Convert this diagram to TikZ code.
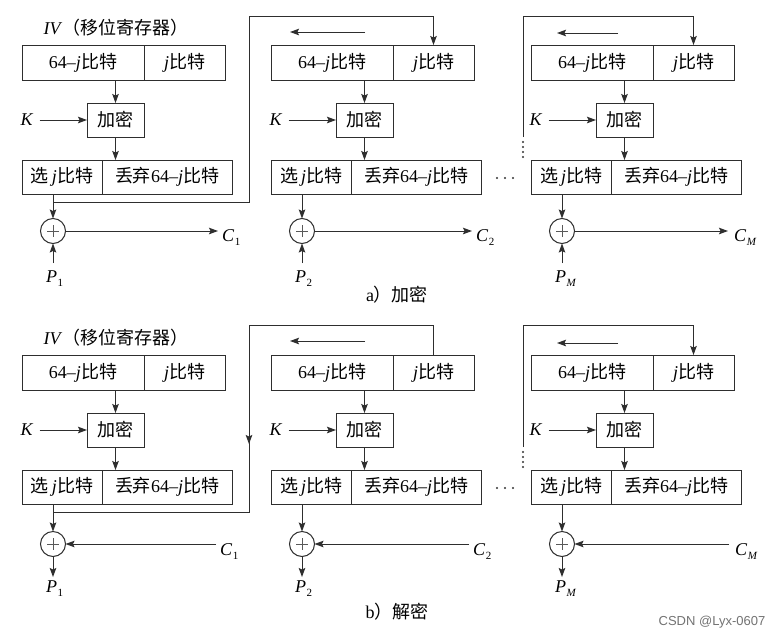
\documentclass[tikz,border=0pt]{standalone}
\usepackage{fontspec}
\setmainfont{Liberation Serif}
\newfontfamily\cjk{Noto Sans CJK SC}
\newfontfamily\wmfont{Liberation Sans}
\usetikzlibrary{arrows.meta,calc}

\newcommand\zh[1]{{\cjk #1}}
\newcommand\jj{\textit{j}}
\newcommand\sbl[2]{\textit{#1}\kern0.5pt\raisebox{-4pt}{\fontsize{11}{11}\selectfont #2}}

\tikzset{
 ln/.style={line width=1pt, draw=black!82},
 arr/.style={ln, -{Stealth[length=9pt,width=6.5pt,inset=1.5pt]}},
 box/.style={draw=black!82, line width=1pt, minimum height=35pt, inner sep=0pt, outer sep=0pt, font=\fontsize{18}{18}\selectfont},
 xo/.style={draw=black!82, line width=1pt, circle, minimum size=25pt, inner sep=0pt, outer sep=0pt},
 plusl/.style={line width=0.7pt, draw=black!65},
 lbl/.style={font=\fontsize{18}{18}\selectfont, inner sep=1pt},
 dotf/.style={fill=black!80},
}

% #1 prefix, #2 left x, #3 box y offset, #4 circle y offset
\newcommand\mkcol[4]{%
 \node[box, minimum width=122pt, anchor=north west] (#1rl) at (#2,#3+45) {64–\jj\zh{比特}};
 \node[box, minimum width=81pt, anchor=north west] (#1rr) at (#1rl.north east) {\jj\zh{比特}};
 \node[box, minimum width=57pt, minimum height=34pt, anchor=north east] (#1enc) at (#2+122,#3+103) {\zh{加密}};
 \node[box, minimum width=80pt, minimum height=34pt, anchor=north west] (#1ll) at (#2,#3+160) {\zh{选}\,\jj\zh{比特}};
 \node[box, minimum width=130pt, minimum height=34pt, anchor=north west] (#1lr) at (#1ll.north east) {\zh{丢弃}64–\jj\zh{比特}};
 \node[lbl, inner xsep=6pt] (#1K) at (#2+5,#3+120) {\textit{K}};
 \node[xo] (#1x) at (#2+31,#4+231) {};
 \draw[plusl] ($(#1x)+(-6,0)$) -- ($(#1x)+(6,0)$);
 \draw[plusl] ($(#1x)+(0,-6)$) -- ($(#1x)+(0,6)$);
 \draw[arr] (#1enc.north |- #1rl.south) -- (#1enc.north);
 \draw[arr] (#1enc.south) -- (#1enc.south |- #1ll.north);
 \draw[arr] (#1K) -- (#1K -| #1enc.west);
 \draw[arr] (#1x.north |- #1ll.south) -- (#1x);
}

\begin{document}
\begin{tikzpicture}[x=1pt,y=-1pt]
\fill[white] (0,0) rectangle (780,638);
\useasboundingbox (0,0) rectangle (780,638);

% ---------------- a) encryption ----------------
\mkcol{a1}{22}{0}{0}
\mkcol{a2}{271}{0}{0}
\mkcol{a3}{531}{0}{0}

\node[lbl] (aiv) at (116,28) {\textit{IV}\zh{（移位寄存器）}};

\coordinate (a2s) at (365,32); \coordinate (a2e) at (290,32);
\draw[arr] (a2s) -- (a2e);
\coordinate (a3s) at (618,33); \coordinate (a3e) at (557,33);
\draw[arr] (a3s) -- (a3e);

\node[lbl, anchor=base west, inner xsep=4pt] (a1C) at (218,241) {\sbl{C}{1}};
\node[lbl, anchor=base west, inner xsep=4pt] (a2C) at (472,241) {\sbl{C}{2}};
\node[lbl, anchor=base west, inner xsep=6pt] (a3C) at (728,241) {\sbl{C}{\textit{M}}};
\draw[arr] (a1x) -- (a1x -| a1C.west);
\draw[arr] (a2x) -- (a2x -| a2C.west);
\draw[arr] (a3x) -- (a3x -| a3C.west);

\node[lbl, anchor=base west, inner ysep=7pt] (a1P) at (45,282) {\sbl{P}{1}};
\node[lbl, anchor=base west, inner ysep=7pt] (a2P) at (294,282) {\sbl{P}{2}};
\node[lbl, anchor=base west, inner ysep=7pt] (a3P) at (554,282) {\sbl{P}{\textit{M}}};
\draw[arr] (a1x |- a1P.north) -- (a1x);
\draw[arr] (a2x |- a2P.north) -- (a2x);
\draw[arr] (a3x |- a3P.north) -- (a3x);

\draw[arr] (a1x.north |- 0,202) -- (249,202) -- (249,16) -| (a2rr.north);
\coordinate (a3d) at (523,137);
\draw[arr] (a3d) -- (523,16) -| (a3rr.north);
\foreach \y in {142,147,152,157} \fill[dotf] (523,\y) circle (1.1pt);
\foreach \x in {497,505,513} \fill[dotf] (\x,178) circle (1.1pt);

\node[lbl] (acap) at (397,295) {a\zh{）加密}};

% ---------------- b) decryption ----------------
\mkcol{b1}{22}{310}{313}
\mkcol{b2}{271}{310}{313}
\mkcol{b3}{531}{310}{313}

\node[lbl] (biv) at (116,338) {\textit{IV}\zh{（移位寄存器）}};

\coordinate (b2s) at (365,341); \coordinate (b2e) at (290,341);
\draw[arr] (b2s) -- (b2e);
\coordinate (b3s) at (618,343); \coordinate (b3e) at (557,343);
\draw[arr] (b3s) -- (b3e);

\node[lbl, anchor=base west, inner xsep=4pt] (b1C) at (216,555) {\sbl{C}{1}};
\node[lbl, anchor=base west, inner xsep=4pt] (b2C) at (469,555) {\sbl{C}{2}};
\node[lbl, anchor=base west, inner xsep=6pt] (b3C) at (729,555) {\sbl{C}{\textit{M}}};
\draw[arr] (b1x -| b1C.west) -- (b1x);
\draw[arr] (b2x -| b2C.west) -- (b2x);
\draw[arr] (b3x -| b3C.west) -- (b3x);

\node[lbl, anchor=base west, inner ysep=3pt] (b1P) at (45,592) {\sbl{P}{1}};
\node[lbl, anchor=base west, inner ysep=3pt] (b2P) at (294,592) {\sbl{P}{2}};
\node[lbl, anchor=base west, inner ysep=3pt] (b3P) at (554,592) {\sbl{P}{\textit{M}}};
\draw[arr] (b1x) -- (b1x |- b1P.north);
\draw[arr] (b2x) -- (b2x |- b2P.north);
\draw[arr] (b3x) -- (b3x |- b3P.north);

\draw[ln] (b2rr.north) -- (b2rr.north |- 0,325) -- (249,325) -- (249,512) -- (b1x.north |- 0,512);
\coordinate (bm1) at (249,400); \coordinate (bm2) at (249,444);
\draw[arr] (bm1) -- (bm2);
\coordinate (b3d) at (523,447);
\draw[arr] (b3d) -- (523,325) -| (b3rr.north);
\foreach \y in {452,457,462,467} \fill[dotf] (523,\y) circle (1.1pt);
\foreach \x in {497,505,513} \fill[dotf] (\x,488) circle (1.1pt);

\node[lbl] (bcap) at (397,612) {b\zh{）解密}};

\node[font=\wmfont\fontsize{13}{13}\selectfont, text=black!55] (wm) at (712,622) {CSDN @Lyx-0607};
\end{tikzpicture}
\end{document}
